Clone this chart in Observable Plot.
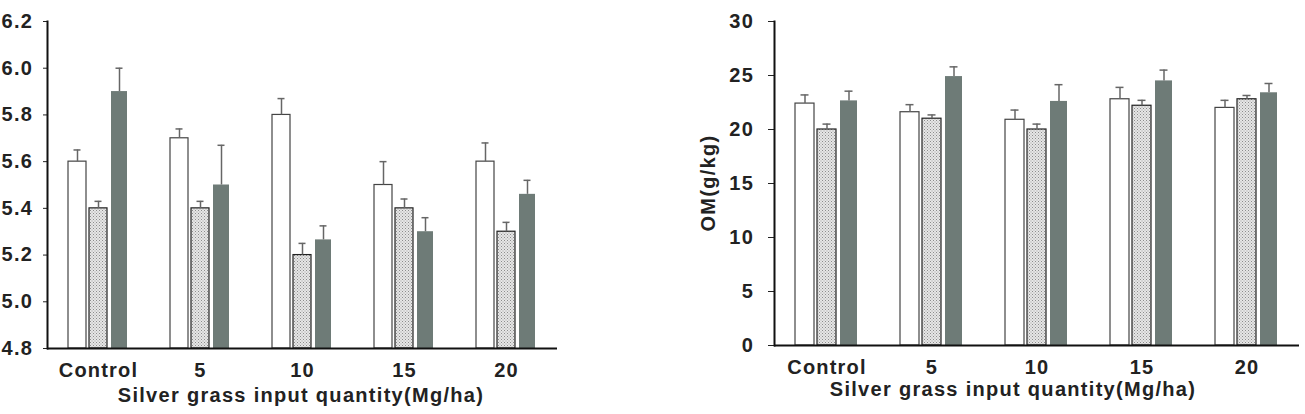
<!DOCTYPE html>
<html><head><meta charset="utf-8">
<script src="https://cdn.jsdelivr.net/npm/d3@7"></script>
<script src="https://cdn.jsdelivr.net/npm/@observablehq/plot@0.6"></script>
<style>
html,body{margin:0;padding:0;background:#fff;overflow:hidden;}
#wrap{position:relative;width:1305px;height:414px;overflow:hidden;background:#fff;}
.panel{position:absolute;top:0;}
.title{position:absolute;font:bold 20px "Liberation Sans",Arial,sans-serif;letter-spacing:1.3px;color:#222;white-space:nowrap;line-height:20px;}
</style></head><body><div id="wrap"></div>
<script>
// ---- data ----
const categories = ["Control", "5", "10", "15", "20"];
const series = ["S1", "S2", "S3"]; // white, dotted, dark grey bars
const xTitle = "Silver grass input quantity(Mg/ha)";

// left panel (pH)
const phS1 = [5.60, 5.70, 5.80, 5.50, 5.60];
const phS2 = [5.40, 5.40, 5.20, 5.40, 5.30];
const phS3 = [5.90, 5.50, 5.265, 5.30, 5.46];
const phErrS1 = [0.05, 0.04, 0.07, 0.10, 0.08];
const phErrS2 = [0.03, 0.03, 0.05, 0.04, 0.04];
const phErrS3 = [0.10, 0.17, 0.06, 0.06, 0.06];
const phTicks = [4.8, 5.0, 5.2, 5.4, 5.6, 5.8, 6.0, 6.2];

// right panel (OM)
const omS1 = [22.4, 21.6, 20.9, 22.8, 22.0];
const omS2 = [20.0, 21.0, 20.0, 22.2, 22.8];
const omS3 = [22.65, 24.9, 22.6, 24.5, 23.4];
const omErrS1 = [0.8, 0.7, 0.9, 1.1, 0.7];
const omErrS2 = [0.5, 0.35, 0.5, 0.5, 0.35];
const omErrS3 = [0.9, 0.9, 1.55, 1.0, 0.86];
const omTicks = [0, 5, 10, 15, 20, 25, 30];
const omTitle = "OM(g/kg)";

function table(vals, errs) {
  return categories.flatMap((c, i) => series.map((s, j) => ({cat: c, s, v: vals[j][i], e: errs[j][i]})));
}

const FONT = '"Liberation Sans", Arial, sans-serif';

function makePanel(o) {
  const rows = o.rows;
  const base = o.yDomain[0];
  const bar = (s, opts) => Plot.barY(rows.filter(d => d.s === s), {fx: "cat", x: "s", y1: base, y2: "v", ...opts});
  const svg = Plot.plot({
    width: o.width, height: o.height,
    marginLeft: o.mL, marginRight: o.mR, marginTop: o.mT, marginBottom: o.mB,
    style: {fontFamily: FONT, fontSize: "20px", fontWeight: "bold", letterSpacing: "1.2px", color: "#222", background: "transparent", overflow: "visible"},
    fx: {domain: categories, padding: 0, axis: "bottom", label: null, tickSize: 0, tickPadding: 14},
    x: {domain: series, axis: null, paddingInner: o.padIn, paddingOuter: o.padOut},
    y: {domain: o.yDomain, ticks: o.yTicks, tickFormat: o.fmt, tickSize: o.tickSize, tickPadding: o.tickPadding, label: null},
    marks: [
      bar("S1", {fill: "white", stroke: "#444", strokeWidth: 1.2}),
      bar("S2", {fill: `url(#${o.patId})`, stroke: "#222", strokeWidth: 1.2}),
      bar("S3", {fill: "#6e7b77", insetLeft: 1, insetRight: 1}),
      Plot.ruleX(rows, {fx: "cat", x: "s", y1: "v", y2: d => d.v + d.e, stroke: "#666", strokeWidth: 1.5}),
      Plot.tickY(rows, {fx: "cat", x: "s", y: d => d.v + d.e, stroke: "#666", strokeWidth: 1.5, insetLeft: 5.5, insetRight: 5.5}),
      Plot.ruleY([base], {stroke: "#111", strokeWidth: 2}),
      Plot.frame({anchor: "left", facetAnchor: "left", stroke: "#111", strokeWidth: 2})
    ]
  });
  const defs = d3.select(svg).insert("defs", ":first-child");
  const p = defs.append("pattern").attr("id", o.patId).attr("patternUnits", "userSpaceOnUse").attr("width", 3).attr("height", 3);
  p.append("rect").attr("width", 3).attr("height", 3).attr("fill", "#e6e6e6");
  p.append("rect").attr("width", 1).attr("height", 1).attr("fill", "#8c8c8c");
  p.append("rect").attr("x", 1.5).attr("y", 1.5).attr("width", 1).attr("height", 1).attr("fill", "#a0a0a0");
  return svg;
}

const wrap = document.getElementById("wrap");

const left = makePanel({
  rows: table([phS1, phS2, phS3], [phErrS1, phErrS2, phErrS3]),
  yDomain: [4.8, 6.2], yTicks: phTicks, fmt: d3.format(".1f"),
  width: 620, height: 414, mL: 65, mR: 42, mT: 21, mB: 66,
  tickSize: 4, tickPadding: 10.5, padIn: 0.14, padOut: 0.9, patId: "dotsL"
});
const ld = document.createElement("div"); ld.className = "panel"; ld.style.left = "-20px"; ld.appendChild(left); wrap.appendChild(ld);

const right = makePanel({
  rows: table([omS1, omS2, omS3], [omErrS1, omErrS2, omErrS3]),
  yDomain: [0, 30], yTicks: omTicks, fmt: d3.format("d"),
  width: 605, height: 414, mL: 72, mR: 5, mT: 21, mB: 69,
  tickSize: 6, tickPadding: 14.5, padIn: 0.15, padOut: 0.875, patId: "dotsR"
});
const rd = document.createElement("div"); rd.className = "panel"; rd.style.left = "700px"; rd.appendChild(right); wrap.appendChild(rd);

function addTitle(text, cx, top, rotate) {
  const t = document.createElement("div");
  t.className = "title";
  t.textContent = text;
  t.style.left = cx + "px";
  t.style.top = top + "px";
  t.style.transform = rotate ? "translate(-50%,-50%) rotate(-90deg)" : "translateX(-50%)";
  wrap.appendChild(t);
}
addTitle(xTitle, 301, 385, false);
addTitle(xTitle, 1013, 379, false);
addTitle(omTitle, 708, 183, true);
</script></body></html>
